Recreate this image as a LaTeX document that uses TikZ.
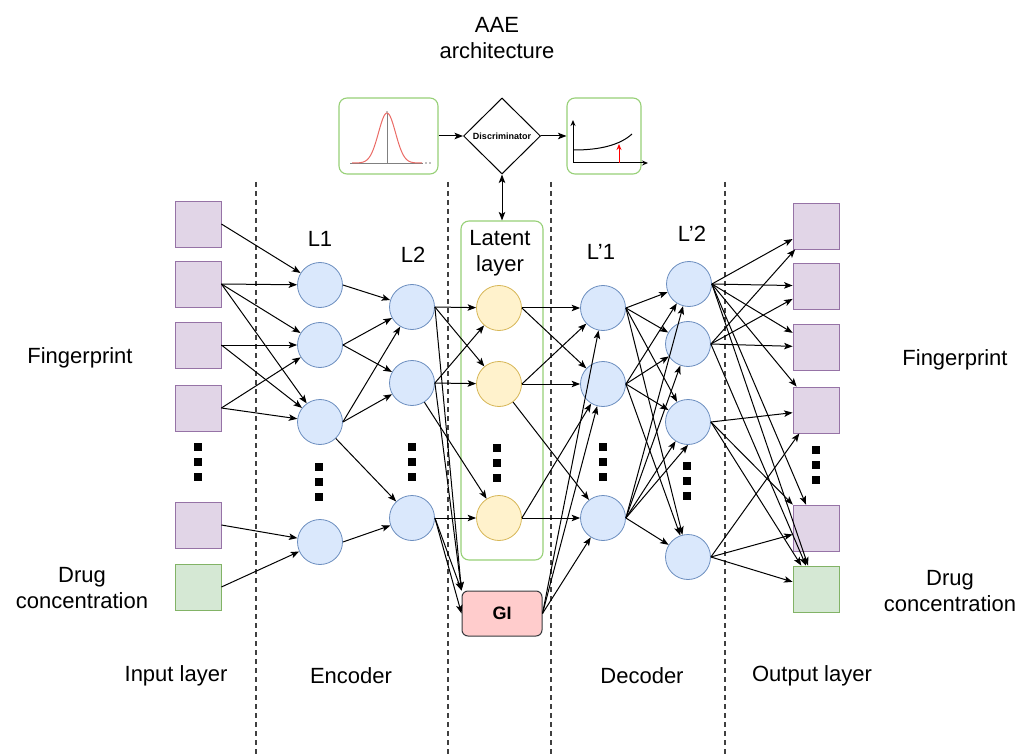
\documentclass[tikz,border=0pt]{standalone}
\usepackage{fontspec}
\setmainfont{Liberation Sans}
\usepackage{tikz}
\usetikzlibrary{shapes.geometric, arrows.meta}

\definecolor{unitfill}{HTML}{DAE8FC}
\definecolor{unitdraw}{HTML}{6C8EBF}
\definecolor{latfill}{HTML}{FFF2CC}
\definecolor{latdraw}{HTML}{D6B656}
\definecolor{fpfill}{HTML}{E1D5E7}
\definecolor{fpdraw}{HTML}{9673A6}
\definecolor{drugfill}{HTML}{D5E8D4}
\definecolor{drugdraw}{HTML}{82B366}
\definecolor{panel}{HTML}{97D077}
\definecolor{gifill}{HTML}{FFCCCC}
\definecolor{gidraw}{HTML}{36393D}
\definecolor{gausscol}{HTML}{EA6B66}

\tikzstyle{unit} = [circle, minimum size=45pt, inner sep=0pt, draw=unitdraw, fill=unitfill, line width=0.8pt]
\tikzstyle{latent} = [unit, draw=latdraw, fill=latfill]
\tikzstyle{fpbox} = [rectangle, minimum width=46pt, minimum height=46pt, inner sep=0pt, draw=fpdraw, fill=fpfill, line width=0.8pt]
\tikzstyle{drugbox} = [fpbox, draw=drugdraw, fill=drugfill]
\tikzstyle{panelbox} = [rectangle, rounded corners=8pt, draw=panel, line width=1.1pt]
\tikzstyle{gibox} = [rectangle, rounded corners=6pt, minimum width=80pt, minimum height=45pt, draw=gidraw, fill=gifill, line width=1pt, font=\fontsize{18}{20}\selectfont\bfseries]
\tikzstyle{disc} = [diamond, aspect=1, minimum width=77pt, minimum height=76pt, inner sep=0pt, draw=black, line width=1pt, font=\fontsize{9}{10}\selectfont\bfseries]
\tikzstyle{txt} = [align=center, font=\fontsize{22}{26.5}\selectfont]
\tikzstyle{arrow} = [line width=1pt, -{Stealth[length=8.5pt,width=6.5pt,inset=2pt]}]
\tikzstyle{dblarrow} = [line width=1pt, {Stealth[length=8.5pt,width=6.5pt,inset=2pt]}-{Stealth[length=8.5pt,width=6.5pt,inset=2pt]}]
\tikzstyle{divider} = [dash pattern=on 5pt off 4pt, line width=1.3pt, black!75]

% three black squares for the skipped units
\newcommand{\stackdots}[2]{\foreach \k in {1,2,3} \fill ({#1-4},{#2+15*\k-34}) rectangle ++(8,8);}

\begin{document}
\begin{tikzpicture}[x=1pt, y=-1pt]
\useasboundingbox (0,0) rectangle (1018,754);

% column separators
\draw [divider] (256,182) -- (256,754);
\draw [divider] (448,182) -- (448,754);
\draw [divider] (551,182) -- (551,754);
\draw [divider] (725,182) -- (725,754);

\node (title) [txt] at (497,38) {AAE\\architecture};

% adversarial part
\node (prior) [panelbox, minimum width=99pt, minimum height=76pt] at (388.5,136) {};
\node (disc) [disc] at (502,136) {Discriminator};
\node (loss) [panelbox, minimum width=74pt, minimum height=76pt] at (604,136) {};

\draw [gray, line width=0.8pt] (350,163) -- (423,163);
\draw [gray, line width=0.8pt] (387,163) -- (387,113);
\fill [gray] (426,163) circle (0.9) (430,163) circle (0.9) (387,112) circle (0.9);
\draw [gausscol, line width=1pt, domain=352:422, samples=80] plot (\x, {163-50*exp(-0.5*((\x-387)/8.5)*((\x-387)/8.5))});

\draw [line width=1pt, -{Stealth[length=6pt,width=5pt]}] (573,163) -- (573,120);
\draw [line width=1pt, -{Stealth[length=6pt,width=5pt]}] (573,163) -- (648,163);
\draw [line width=1pt] (574,150) .. controls (600,150) and (620,145) .. (632,134);
\draw [red, line width=1pt, -{Stealth[length=6pt,width=5pt]}] (619,163) -- (619,144);

% input layer
\node (in1) [fpbox] at (198,224) {};
\node (in2) [fpbox] at (198,284) {};
\node (in3) [fpbox] at (198,345) {};
\node (in4) [fpbox] at (198,408) {};
\node (in5) [fpbox] at (198,525) {};
\node (in6) [drugbox] at (198,587) {};
\stackdots{198}{462}

% encoder
\node (l11) [unit] at (320,285) {};
\node (l12) [unit] at (320,345) {};
\node (l13) [unit] at (320,422) {};
\node (l14) [unit] at (320,542) {};
\stackdots{319}{482}

\node (l21) [unit] at (412,307) {};
\node (l22) [unit] at (412,383) {};
\node (l23) [unit] at (412,518) {};
\stackdots{412}{462}

% latent layer
\node (latentbox) [panelbox, minimum width=82pt, minimum height=339pt] at (502,390.5) {};
\node (latentlbl) [txt] at (500,253) {Latent\\layer};
\node (lat1) [latent] at (499,308) {};
\node (lat2) [latent] at (499,384) {};
\node (lat3) [latent] at (499,518) {};
\stackdots{497}{463}

\node (gi) [gibox] at (502,613.5) {GI};

% decoder
\node (dl11) [unit] at (603,308) {};
\node (dl12) [unit] at (603,384) {};
\node (dl13) [unit] at (603,518) {};
\stackdots{603}{462}

\node (dl21) [unit] at (689,284) {};
\node (dl22) [unit] at (688,344) {};
\node (dl23) [unit] at (688,422) {};
\node (dl24) [unit] at (688,557) {};
\stackdots{687}{481}

% output layer
\node (out1) [fpbox] at (816,226) {};
\node (out2) [fpbox] at (816,286) {};
\node (out3) [fpbox] at (816,347) {};
\node (out4) [fpbox] at (816,410) {};
\node (out5) [fpbox] at (816,528) {};
\node (out6) [drugbox] at (816,589) {};
\stackdots{816}{465}

% layer names
\node (nl1) [txt] at (320,239) {L1};
\node (nl2) [txt] at (413,255) {L2};
\node (ndl1) [txt] at (601,252) {L'1};
\node (ndl2) [txt] at (692,234) {L'2};

\node (fpin) [txt] at (80,358) {Fingerprint};
\node (drugin) [txt] at (82,588) {Drug\\concentration};
\node (fpout) [txt] at (955,360) {Fingerprint};
\node (drugout) [txt] at (950,591) {Drug\\concentration};

\node (capin) [txt] at (176,676) {Input layer};
\node (capenc) [txt] at (351,676) {Encoder};
\node (capdec) [txt] at (642,676) {Decoder};
\node (capout) [txt] at (812,676) {Output layer};

% adversarial arrows
\draw [arrow] (prior) -- (disc);
\draw [arrow] (disc) -- (loss);
\draw [dblarrow] (disc) -- (latentbox);

% input -> L1
\draw [arrow] (in1.east) -- (l11);
\draw [arrow] (in2.east) -- (l11);
\draw [arrow] (in2.east) -- (l12);
\draw [arrow] (in2.east) -- (l13);
\draw [arrow] (in3.east) -- (l12);
\draw [arrow] (in3.east) -- (l13);
\draw [arrow] (in4.east) -- (l12);
\draw [arrow] (in4.east) -- (l13);
\draw [arrow] (in5.east) -- (l14);
\draw [arrow] (in6.east) -- (l14);

% L1 -> L2
\draw [arrow] (l11.east) -- (l21);
\draw [arrow] (l12.east) -- (l21);
\draw [arrow] (l12.east) -- (l22);
\draw [arrow] (l13.east) -- (l21);
\draw [arrow] (l13.east) -- (l22);
\draw [arrow] (l13) -- (l23);
\draw [arrow] (l14.east) -- (l23);

% L2 -> latent, GI
\draw [arrow] (l21.east) -- (lat1);
\draw [arrow] (l21.east) -- (lat2);
\draw [arrow] (l22.east) -- (lat1);
\draw [arrow] (l22.east) -- (lat2);
\draw [arrow] (l22) -- (lat3);
\draw [arrow] (l23.east) -- (lat3);
\draw [arrow] (l21.east) -- (gi.north west);
\draw [arrow] (l22.east) -- (gi.north west);
\draw [arrow] (l23.east) -- (gi.north west);
\draw [arrow] (l23.east) -- (gi.west);

% latent, GI -> L'1
\draw [arrow] (lat1.east) -- (dl11);
\draw [arrow] (lat1.east) -- (dl12);
\draw [arrow] (lat2.east) -- (dl11);
\draw [arrow] (lat2.east) -- (dl12);
\draw [arrow] (lat2) -- (dl13);
\draw [arrow] (lat3.east) -- (dl12);
\draw [arrow] (lat3.east) -- (dl13);
\draw [arrow] (gi.east) -- (dl11);
\draw [arrow] (gi.east) -- (dl12);
\draw [arrow] (gi.east) -- (dl13);

% L'1 -> L'2
\draw [arrow] (dl11.east) -- (dl21);
\draw [arrow] (dl11.east) -- (dl22);
\draw [arrow] (dl11.east) -- (dl23);
\draw [arrow] (dl11.east) -- (dl24);
\draw [arrow] (dl12.east) -- (dl21);
\draw [arrow] (dl12.east) -- (dl22);
\draw [arrow] (dl12.east) -- (dl23);
\draw [arrow] (dl12.east) -- (dl24);
\draw [arrow] (dl13.east) -- (dl21);
\draw [arrow] (dl13.east) -- (dl22);
\draw [arrow] (dl13.east) -- (dl23);
\draw [arrow] (dl13.east) -- (dl23.south);
\draw [arrow] (dl13.east) -- (dl24);

% L'2 -> output
\draw [arrow] (dl21.east) -- (out1);
\draw [arrow] (dl21.east) -- (out2);
\draw [arrow] (dl21.east) -- (out3);
\draw [arrow] (dl21.east) -- (out4);
\draw [arrow] (dl21.east) -- (out5);
\draw [arrow] (dl21.east) -- (out6);
\draw [arrow] (dl22.east) -- (out1);
\draw [arrow] (dl22.east) -- (out2);
\draw [arrow] (dl22.east) -- (out3);
\draw [arrow] (dl22.east) -- (out6);
\draw [arrow] (dl23.east) -- (out4);
\draw [arrow] (dl23.east) -- (out5);
\draw [arrow] (dl23.east) -- (out6);
\draw [arrow] (dl24.east) -- (out4);
\draw [arrow] (dl24.east) -- (out5);
\draw [arrow] (dl24.east) -- (out6);

\end{tikzpicture}
\end{document}
